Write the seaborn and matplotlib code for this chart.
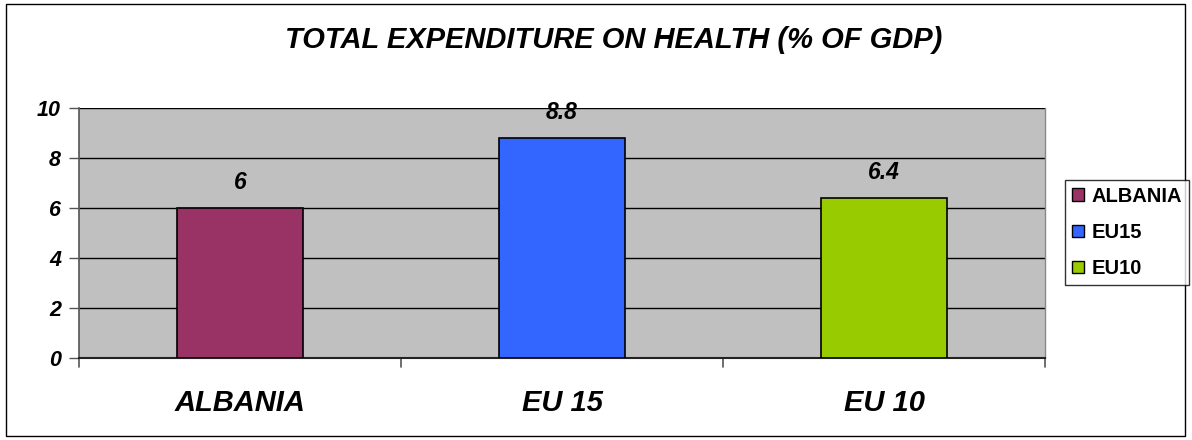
import matplotlib
matplotlib.use("Agg")
import matplotlib.pyplot as plt
import matplotlib.patches as mpatches
import pandas as pd
import seaborn as sns

categories = ["ALBANIA", "EU 15", "EU 10"]
legend_labels = ["ALBANIA", "EU15", "EU10"]
values = [6, 8.8, 6.4]
colors = ["#993366", "#3366FF", "#99CC00"]
y_ticks = [0, 2, 4, 6, 8, 10]

df = pd.DataFrame({"category": categories, "group": legend_labels, "value": values})

sns.set_style("white")
plt.rcParams["font.family"] = ["Liberation Sans", "DejaVu Sans"]
plt.rcParams["text.color"] = "black"
plt.rcParams["xtick.color"] = "black"
plt.rcParams["ytick.color"] = "black"

fig = plt.figure(figsize=(11.92, 4.40), dpi=100)
ax = fig.add_axes([79 / 1192, 82 / 440, 966 / 1192, 250 / 440])

sns.barplot(data=df, x="category", y="value", hue="group", palette=colors,
            saturation=1, dodge=False, width=0.394, edgecolor="black", linewidth=1.2,
            ax=ax, zorder=3, legend=False)

ax.set_facecolor("#C0C0C0")
ax.set_ylim(0, 10)
ax.set_xlim(-0.5, 2.5)
ax.set_yticks(y_ticks)
ax.set_yticklabels([str(t) for t in y_ticks], fontsize=15.5, fontweight="bold",
                   style="italic", color="black")
ax.yaxis.grid(True, color="black", linewidth=1, zorder=0)
ax.set_axisbelow(True)
ax.tick_params(axis="y", direction="out", length=7, width=1, color="#555555", pad=6, left=True)
ax.set_xticks(range(len(categories)))
ax.set_xticklabels(categories, fontsize=21, fontweight="bold", style="italic", color="black")
ax.tick_params(axis="x", length=0, pad=22)
for b in [-0.5, 0.5, 1.5, 2.5]:
    ax.plot([b, b], [0, -0.35], color="#555555", linewidth=1.2, clip_on=False)
ax.set_xlabel("")
ax.set_ylabel("")
ax.spines["top"].set_visible(False)
ax.spines["right"].set_color("#888888")
ax.spines["right"].set_linewidth(1)
ax.spines["left"].set_color("#555555")
ax.spines["left"].set_linewidth(1.2)
ax.spines["bottom"].set_color("#222222")
ax.spines["bottom"].set_linewidth(1.5)

for i, v in enumerate(values):
    ax.text(i, v + 0.55, f"{v:g}", ha="center", va="bottom",
            fontsize=16.5, fontweight="bold", style="italic", color="black")

fig.text(614 / 1192, 1 - 40 / 440, "TOTAL EXPENDITURE ON HEALTH (% OF GDP)",
         ha="center", va="center", fontsize=21, fontweight="bold", style="italic",
         color="black")

handles = [mpatches.Patch(facecolor=c, edgecolor="black", linewidth=1) for c in colors]
leg = fig.legend(handles, legend_labels, loc="center left",
                 bbox_to_anchor=(1065 / 1192, 1 - 232.5 / 440), frameon=True, fancybox=False,
                 edgecolor="black", prop={"size": 14.5, "weight": "bold"},
                 handlelength=0.6, handleheight=0.6, handletextpad=0.35,
                 borderpad=0.35, labelspacing=0.85, borderaxespad=0)
leg.get_frame().set_linewidth(1)

fig.patches.append(mpatches.Rectangle((0.005, 0.008), 0.989, 0.982, transform=fig.transFigure,
                                      fill=False, edgecolor="black", linewidth=1))

fig.savefig("out.png", dpi=100)
